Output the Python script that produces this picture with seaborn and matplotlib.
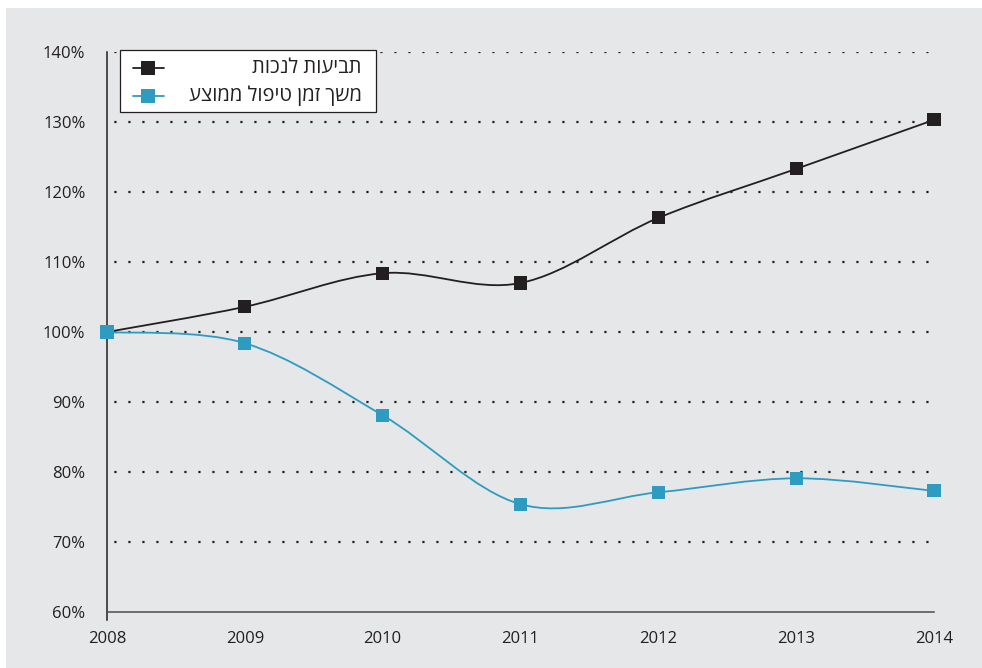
import numpy as np
import pandas as pd
import matplotlib.pyplot as plt
import seaborn as sns
from matplotlib.path import Path
from matplotlib.patches import PathPatch, Rectangle

# values (index, 2008 = 100%)
years = [2008, 2009, 2010, 2011, 2012, 2013, 2014]
claims = [100, 103.6, 108.4, 107.0, 116.3, 123.3, 130.3]
duration = [100, 98.4, 88.1, 75.4, 77.1, 79.1, 77.3]
labels = ['תביעות לנכות', 'משך זמן טיפול ממוצע']
colors = ['#231f20', '#2e9cc0']
y_ticks = [60, 70, 80, 90, 100, 110, 120, 130, 140]

df = pd.DataFrame({
    'year': years * 2,
    'value': claims + duration,
    'series': [labels[0]] * len(years) + [labels[1]] * len(years),
})

sns.set_theme(style='white')
plt.rcParams['font.family'] = ['Open Sans', 'DejaVu Sans']

bg = '#e6e7e8'
fig = plt.figure(figsize=(9.82, 6.68), dpi=100, facecolor='white')
fig.patches.append(Rectangle((6 / 982, 0), 1, 1 - 8 / 668, transform=fig.transFigure,
                             facecolor=bg, edgecolor='none', zorder=-10))
ax = fig.add_axes([107 / 982, 1 - 612 / 668, 827 / 982, 560 / 668])
ax.set_facecolor(bg)


def smooth_path(xs, ys):
    # Excel-like smoothed line: cubic Bezier segments through each point
    pts = np.column_stack([xs, ys]).astype(float)
    n = len(pts)
    verts = [pts[0]]
    codes = [Path.MOVETO]
    for i in range(n - 1):
        p0 = pts[max(i - 1, 0)]
        p1 = pts[i]
        p2 = pts[i + 1]
        p3 = pts[min(i + 2, n - 1)]
        c1 = p1 + (p2 - p0) / 6
        c2 = p2 - (p3 - p1) / 6
        verts += [c1, c2, p2]
        codes += [Path.CURVE4] * 3
    return Path(verts, codes)


for name, col in zip(labels, colors):
    sub = df[df['series'] == name]
    ax.add_patch(PathPatch(smooth_path(sub['year'], sub['value']), facecolor='none',
                           edgecolor=col, lw=1.3, zorder=3, clip_on=False))

sns.scatterplot(data=df, x='year', y='value', hue='series', palette=colors,
                marker='s', s=88, edgecolor='none', legend=False, ax=ax, zorder=4,
                clip_on=False)

ax.set_xlim(2008, 2014)
ax.set_ylim(60, 140)
ax.set_xticks(years)
ax.set_yticks(y_ticks)
ax.set_yticklabels([f'{v}%' for v in y_ticks])
ax.set_xlabel('')
ax.set_ylabel('')

for v in y_ticks[1:]:
    ax.axhline(v, color='#231f20', lw=1.6, linestyle=(3, (1, 5.3)),
               dash_capstyle='butt', zorder=1)

for s in ['top', 'right']:
    ax.spines[s].set_visible(False)
ax.spines['left'].set_color('#231f20')
ax.spines['left'].set_linewidth(1.1)
ax.spines['left'].set_bounds(58.8, 140)
ax.spines['bottom'].set_color('#4d4d4f')
ax.spines['bottom'].set_linewidth(1.1)

ax.tick_params(axis='x', direction='in', length=8, width=1, color='#4d4d4f',
               pad=14, labelsize=12, labelcolor='#231f20')
ax.tick_params(axis='y', direction='inout', length=3, width=1, color='#231f20',
               pad=14, labelsize=12, labelcolor='#231f20')

# legend box drawn by hand so the Hebrew labels can sit right-aligned
W, H = 827.0, 560.0
ax.add_patch(Rectangle((13 / W, 1 - 112 / H + 52 / H), 256 / W, 62 / H,
                       transform=ax.transAxes, facecolor='white', edgecolor='#231f20',
                       lw=0.9, clip_on=False, zorder=10))
for k, (name, col) in enumerate(zip(labels, colors)):
    yy = 1 - (68 + 28 * k - 52) / H
    ax.plot([26 / W, 57 / W], [yy, yy], color=col, lw=1.3, transform=ax.transAxes,
            clip_on=False, zorder=11)
    ax.plot([41 / W], [yy], marker='s', markersize=9.4, color=col, markeredgewidth=0,
            transform=ax.transAxes, clip_on=False, zorder=12)
    # Hebrew is right-to-left; matplotlib draws characters in logical order
    ax.text(255 / W, yy, name[::-1], transform=ax.transAxes, ha='right', va='center',
            fontsize=14.5, color='#231f20', zorder=12)

fig.savefig('out.png', dpi=100, facecolor='white')
